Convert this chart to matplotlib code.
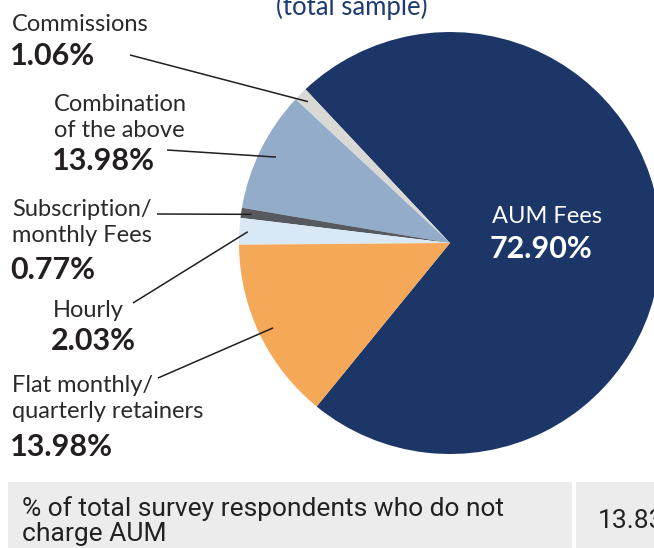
import matplotlib
matplotlib.use("Agg")
import matplotlib.pyplot as plt
from matplotlib.patches import Rectangle
from matplotlib import font_manager as fm
import numpy as np

# ---------------- data ----------------
categories = ["AUM Fees", "Commissions", "Combination\nof the above",
              "Subscription/\nmonthly Fees", "Hourly",
              "Flat monthly/\nquarterly retainers"]
slice_values = [72.90, 1.06, 9.26, 0.77, 2.03, 13.98]      # drawn wedge sizes
label_values = ["72.90%", "1.06%", "13.98%", "0.77%", "2.03%", "13.98%"]  # printed labels
colors = ["#1c3668", "#d9d8d5", "#93acc9", "#56595f", "#d9e8f5", "#f6a859"]
title_text = "(total sample)"
table_label = ["% of total survey respondents who do not", "charge AUM"]
table_value = "13.83%"

# ---------------- fonts ----------------
def pick(names):
    for n in names:
        try:
            fm.findfont(fm.FontProperties(family=n), fallback_to_default=False)
            return n
        except Exception:
            pass
    return "DejaVu Sans"

label_font = pick(["Lato", "Liberation Sans", "DejaVu Sans"])
table_font = pick(["Roboto", "Liberation Sans", "DejaVu Sans"])

W, H = 654, 548
fig = plt.figure(figsize=(W / 100, H / 100), dpi=100)
ax = fig.add_axes([0, 0, 1, 1])

def Y(y):
    return H - y

cx, cy, R = 450, Y(243), 211
wedges, _ = ax.pie(slice_values, colors=colors, startangle=-129.2,
                   counterclock=True, center=(cx, cy), radius=R,
                   wedgeprops=dict(linewidth=0))
ax.set_xlim(0, W)
ax.set_ylim(0, H)
ax.set_aspect("equal")
ax.axis("off")

txt_col = "#231f20"
name_size = 17
val_size = 22
line_gap = 26
name_weight = "normal"

# label layout: x, first-line baseline, value baseline, line start
layout = {
    1: dict(x=12, nb=31, vb=65, ls=(130, 55), rf=0.95),
    2: dict(x=54, nb=111, vb=170, ls=(167, 150), rf=0.92),
    3: dict(x=12, nb=216, vb=279, ls=(157, 214), rf=0.95),
    4: dict(x=53, nb=317, vb=350, ls=(133, 303), rf=0.96),
    5: dict(x=12, nb=392, vb=456, ls=(158, 378), rf=0.93),
}

for i, lay in layout.items():
    lines = categories[i].split("\n")
    for k, ln in enumerate(lines):
        ax.text(lay["x"], Y(lay["nb"] + k * line_gap), ln, family=label_font,
                fontsize=name_size, fontweight=name_weight, color="#2a2a2a",
                ha="left", va="baseline")
    ax.text(lay["x"] - 2, Y(lay["vb"]), label_values[i], family=label_font,
            fontsize=val_size, fontweight="bold", color=txt_col,
            ha="left", va="baseline")
    w = wedges[i]
    mid = np.deg2rad((w.theta1 + w.theta2) / 2)
    ex = cx + lay["rf"] * R * np.cos(mid)
    ey = cy + lay["rf"] * R * np.sin(mid)
    sx, sy = lay["ls"]
    ax.plot([sx, ex], [Y(sy), ey], color=txt_col, lw=1.1, solid_capstyle="butt")

# AUM label inside
ax.text(492, Y(223), categories[0], family=label_font, fontsize=name_size,
        fontweight=name_weight, color="white", ha="left", va="baseline")
ax.text(490, Y(258), label_values[0], family=label_font, fontsize=val_size,
        fontweight="bold", color="white", ha="left", va="baseline")

# title (partially cut off at the top, as in the source)
ax.text(352, Y(15), title_text, family=label_font, fontsize=18.5,
        fontweight=name_weight, color="#1f3b70", ha="center", va="baseline")

# table at the bottom
ax.add_patch(Rectangle((8, 0), W, Y(482), facecolor="#ececec",
                       edgecolor="none", zorder=0))
ax.plot([574, 574], [0, Y(482)], color="white", lw=3, zorder=1)
for k, ln in enumerate(table_label):
    ax.text(22, Y(516 + k * 25), ln, family=table_font, fontsize=19,
            color="#222222", ha="left", va="baseline")
ax.text(598, Y(528), table_value, family=table_font, fontsize=19,
        color="#222222", ha="left", va="baseline")

fig.savefig("out.png", dpi=100)
